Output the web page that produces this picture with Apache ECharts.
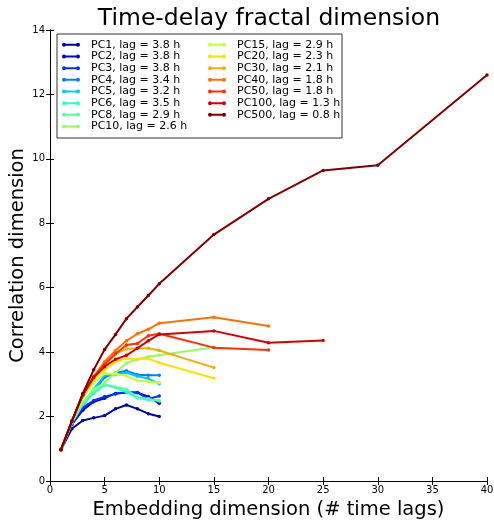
<!DOCTYPE html>
<html><head><meta charset="utf-8">
<script src="https://cdn.jsdelivr.net/npm/echarts@6/dist/echarts.min.js"></script>
<style>html,body{margin:0;padding:0;background:#fff}#c{width:494px;height:525px}</style>
</head><body><div id="c"></div>
<script>
const names = ["PC1, lag = 3.8 h","PC2, lag = 3.8 h","PC3, lag = 3.8 h","PC4, lag = 3.4 h","PC5, lag = 3.2 h","PC6, lag = 3.5 h","PC8, lag = 2.9 h","PC10, lag = 2.6 h","PC15, lag = 2.9 h","PC20, lag = 2.3 h","PC30, lag = 2.1 h","PC40, lag = 1.8 h","PC50, lag = 1.8 h","PC100, lag = 1.3 h","PC500, lag = 0.8 h"];
const colors = ["#0000a8","#0000e8","#0030ff","#0080ff","#00c8ff","#20ffd8","#50ffa8","#90ff60","#c8ff30","#ffe000","#ffa800","#ff7000","#ff3000","#d00000","#800000"];
const xs10 = [1,2,3,4,5,6,7,8,9,10];
const xs15 = [1,2,3,4,5,6,7,8,9,10,15];
const xs20 = [1,2,3,4,5,6,7,8,9,10,15,20];
const xs25 = [1,2,3,4,5,6,7,8,9,10,15,20,25];
const xs40 = [1,2,3,4,5,6,7,8,9,10,15,20,25,30,40];
const pc1   = [0.97,1.62,1.88,1.96,2.03,2.24,2.36,2.24,2.09,2.00];
const pc2   = [0.97,1.75,2.20,2.46,2.57,2.72,2.75,2.75,2.62,2.41];
const pc3   = [0.97,1.78,2.28,2.50,2.62,2.70,2.76,2.74,2.55,2.64];
const pc4   = [0.97,1.80,2.35,2.80,3.22,3.35,3.42,3.30,3.28,3.28];
const pc5   = [0.97,1.82,2.40,2.85,3.28,3.30,3.36,3.25,3.18,3.02];
const pc6   = [0.97,1.80,2.38,2.72,2.98,2.90,2.76,2.58,2.52,2.50];
const pc8   = [0.97,1.82,2.42,2.80,3.00,2.92,2.85,2.60,2.55,2.48];
const pc10  = [0.97,1.84,2.45,2.85,3.05,3.35,3.66,3.78,3.86,3.90,4.15];
const pc15  = [0.97,1.85,2.60,3.05,3.34,3.32,3.26,3.12,3.08,3.06];
const pc20  = [0.97,1.85,2.62,3.15,3.45,3.70,3.80,3.78,3.80,3.67,3.19];
const pc30  = [0.97,1.86,2.64,3.20,3.60,3.95,4.10,4.12,4.12,4.05,3.52];
const pc40  = [0.97,1.86,2.68,3.25,3.70,4.05,4.35,4.57,4.71,4.90,5.08,4.81];
const pc50  = [0.97,1.86,2.66,3.22,3.62,3.95,4.22,4.27,4.51,4.57,4.14,4.07];
const pc100 = [0.97,1.86,2.68,3.22,3.55,3.78,3.90,4.12,4.35,4.55,4.66,4.29,4.36];
const pc500 = [0.97,1.85,2.72,3.45,4.08,4.55,5.04,5.40,5.76,6.12,7.65,8.76,9.64,9.80,12.60];
const xTicks = [0,5,10,15,20,25,30,35,40];
const yTicks = [0,2,4,6,8,10,12,14];

const pcX = [xs10,xs10,xs10,xs10,xs10,xs10,xs10,xs15,xs10,xs15,xs15,xs20,xs20,xs25,xs40];
const pcY = [pc1,pc2,pc3,pc4,pc5,pc6,pc8,pc10,pc15,pc20,pc30,pc40,pc50,pc100,pc500];

const FONT = "DejaVu Sans";
const chart = echarts.init(document.getElementById('c'), null, {renderer:'canvas'});
const series = names.map((n,i)=>({
  name:n, type:'line', data: pcX[i].map((x,j)=>[x,pcY[i][j]]),
  xAxisIndex:0, yAxisIndex:0,
  lineStyle:{color:colors[i],width:2}, itemStyle:{color:colors[i]},
  symbol:'circle', symbolSize:3.5, showSymbol:true, animation:false, z: 2+i
}));
const icon = 'path://M0,2a2,2 0 1,1 4,0a2,2 0 1,1 -4,0z M14,2a2,2 0 1,1 4,0a2,2 0 1,1 -4,0z M3,1h12v2h-12z';
const legendCommon = {orient:'vertical', itemWidth:18, itemHeight:4, itemGap:0, icon:icon,
  textStyle:{fontFamily:FONT,fontSize:11,lineHeight:11.67,color:'#000',padding:[0,0,0,6]}, selectedMode:false, padding:0};
const axisCommon = {axisLine:{show:true,lineStyle:{color:'#000',width:1}}, axisTick:{inside:true,length:4,lineStyle:{color:'#000'}}, splitLine:{show:false}};
chart.setOption({
  animation:false,
  textStyle:{fontFamily:FONT},
  title:{text:'Time-delay fractal dimension', left:264, top:2, textAlign:'center', textStyle:{fontFamily:FONT,fontSize:23.5,fontWeight:'normal',color:'#000'}},
  grid:{left:50,right:7,top:30,bottom:44,containLabel:false,outerBoundsMode:'none'},
  xAxis:[
    Object.assign({type:'value',min:0,max:40,interval:5,position:'bottom',
      name:'Embedding dimension (# time lags)',nameLocation:'middle',nameGap:17,
      nameTextStyle:{fontFamily:FONT,fontSize:19.5,color:'#000'},
      axisLabel:{fontFamily:FONT,fontSize:10,color:'#000',margin:4,
        formatter:v=>xTicks.includes(v)?String(v):''}},axisCommon),
    Object.assign({type:'value',min:0,max:40,interval:5,position:'top',axisLabel:{show:false}},axisCommon)
  ],
  yAxis:[
    Object.assign({type:'value',min:0,max:14,interval:2,position:'left',
      name:'Correlation dimension',nameLocation:'middle',nameGap:22,nameMoveOverlap:false,
      nameTextStyle:{fontFamily:FONT,fontSize:19.5,color:'#000'},
      axisLabel:{fontFamily:FONT,fontSize:10,color:'#000',margin:5,
        formatter:v=>yTicks.includes(v)?String(v):''}},axisCommon),
    Object.assign({type:'value',min:0,max:14,interval:2,position:'right',axisLabel:{show:false}},axisCommon)
  ],
  legend:[
    Object.assign({left:62, top:39, data:names.slice(0,8)},legendCommon),
    Object.assign({left:208, top:39, data:names.slice(8)},legendCommon)
  ],
  graphic:[{type:'rect',shape:{x:57,y:34,width:285,height:104},style:{fill:'rgba(0,0,0,0)',stroke:'#333',lineWidth:1},z:100}],
  series: series
});
</script></body></html>
